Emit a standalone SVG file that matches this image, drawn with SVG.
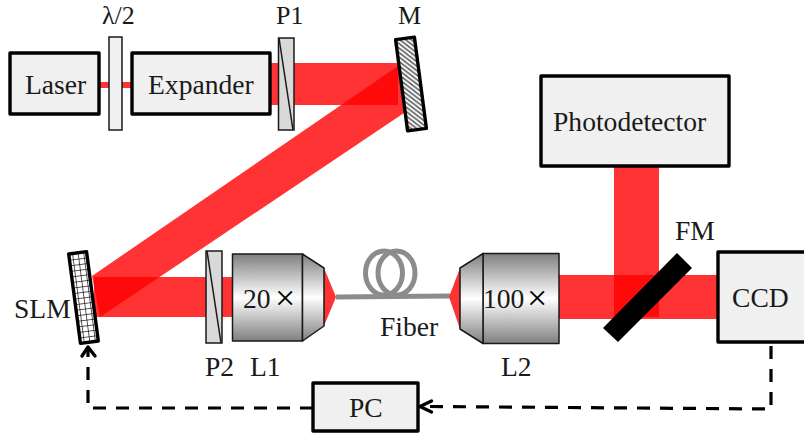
<svg xmlns="http://www.w3.org/2000/svg" width="804" height="437" viewBox="0 0 804 437">
<style>
text{font-family:"Liberation Serif","Times New Roman",serif;font-size:27.6px;fill:#1a1a1a}
.top{font-size:26px}
.x{font-size:36px;fill:#000}
.box{fill:#f0f0f0;stroke:#000;stroke-width:3.4;stroke-linejoin:round}
.beam{fill:#ff0000;fill-opacity:.8}
.plate{stroke:#1a1a1a;stroke-width:1.5}
.lens{stroke:#1a1a1a;stroke-width:1.5;stroke-linejoin:round}
.dash{fill:none;stroke:#000;stroke-width:3.2;stroke-dasharray:13 10}
.head{fill:none;stroke:#000;stroke-width:3.4;stroke-linecap:round;stroke-linejoin:round}
.fiber{fill:none;stroke:#8c8c8c;stroke-width:5}
</style>
<defs>
<linearGradient id="g" x1="0" y1="0" x2="0" y2="1">
<stop offset="0" stop-color="#7f7f7f"/><stop offset=".5" stop-color="#ffffff"/><stop offset="1" stop-color="#7f7f7f"/>
</linearGradient>
<pattern id="hatch" width="5" height="5" patternUnits="userSpaceOnUse">
<rect width="5" height="5" fill="#fff"/><path d="M-1 4L1 6M0 0L5 5M4 -1L6 1" stroke="#444" stroke-width="1.4"/>
</pattern>
<pattern id="grid" x="0" y="0" width="5.6" height="5.6" patternUnits="userSpaceOnUse">
<rect width="5.6" height="5.6" fill="#fff"/><path d="M0 0H5.6M0 0V5.6" stroke="#111" stroke-width="1.4" fill="none"/>
</pattern>
</defs>
<g id="beams">
<rect class="beam" x="100" y="82" width="32" height="6"/>
<rect class="beam" x="270" y="63" width="128" height="42"/>
<polygon class="beam" points="398,66 404,113 100,317 92,276"/>
<rect class="beam" x="94" y="277" width="138" height="40"/>
<rect class="beam" x="559" y="275" width="159" height="44"/>
<rect class="beam" x="614" y="166" width="45" height="151"/>
</g>
<g id="laser"><rect class="box" x="10" y="53" width="89" height="61"/><text x="25" y="94">Laser</text></g>
<g id="half-wave"><rect class="plate" x="109" y="37" width="13" height="93" fill="#f0f0f0"/><text class="top" x="102" y="23.500">λ/2</text></g>
<g id="expander"><rect class="box" x="132" y="53" width="138" height="61"/><text x="148" y="94">Expander</text></g>
<g id="p1"><rect class="plate" x="278.500" y="38" width="15.500" height="92" fill="#d9d9d9"/><path class="plate" d="M279 38L293 130"/><text class="top" x="276" y="23.500">P1</text></g>
<g id="m"><rect transform="translate(411 84) rotate(-7.500)" x="-9.500" y="-46" width="19" height="92" fill="url(#hatch)" stroke="#000" stroke-width="3.400" stroke-linejoin="round"/><text class="top" x="398" y="23.500">M</text></g>
<g id="slm"><rect transform="translate(83.500 297.500) rotate(-7.500)" x="-9" y="-45" width="18" height="90" fill="url(#grid)" stroke="#000" stroke-width="3.400" stroke-linejoin="round"/><text x="14" y="318">SLM</text></g>
<g id="p2"><rect class="plate" x="206" y="251" width="16" height="92" fill="#d9d9d9"/><path class="plate" d="M207 251L221 343"/><text x="205" y="376">P2</text></g>
<g id="l1">
<polygon points="324,268 336,297 324,326" fill="#ff3333"/>
<rect class="lens" x="232.500" y="254" width="70" height="87" fill="url(#g)"/>
<polygon class="lens" points="302.500,254 324,268 324,326 302.500,341" fill="url(#g)"/>
<text x="243" y="308">20</text><text class="x" x="275" y="310">×</text><text x="250" y="376">L1</text>
</g>
<g id="fiber">
<ellipse class="fiber" cx="384" cy="273" rx="18.500" ry="22"/>
<ellipse class="fiber" cx="396.500" cy="273" rx="18.500" ry="22"/>
<path class="fiber" d="M336 297L450 296"/>
<text x="380" y="336">Fiber</text>
</g>
<g id="l2">
<polygon points="460,268 449,297 460,329" fill="#ff3333"/>
<rect class="lens" x="483" y="253.500" width="76" height="90" fill="url(#g)"/>
<polygon class="lens" points="483,253.500 460,268 460,329 483,343.500" fill="url(#g)"/>
<text x="483" y="308">100</text><text class="x" x="527" y="310">×</text><text x="501" y="376">L2</text>
</g>
<g id="photodetector"><rect class="box" x="541" y="76" width="188" height="90"/><text x="553" y="131">Photodetector</text></g>
<g id="fm"><polygon points="677,253 692,268 618,342 603,328" fill="#000"/><text x="675" y="240">FM</text></g>
<g id="ccd"><rect class="box" x="718" y="252" width="92" height="90"/><text x="732" y="307">CCD</text></g>
<g id="pc"><rect class="box" x="313" y="383" width="105" height="48"/><text x="349" y="417">PC</text></g>
<g id="connectors">
<path class="dash" d="M771 346V409L430 406.500"/>
<path class="head" d="M431.500 401L420 406.500L431.500 412"/>
<path class="dash" d="M313 408H88V349"/>
<path class="head" d="M82 356L88 347L95 356"/>
</g>
</svg>
